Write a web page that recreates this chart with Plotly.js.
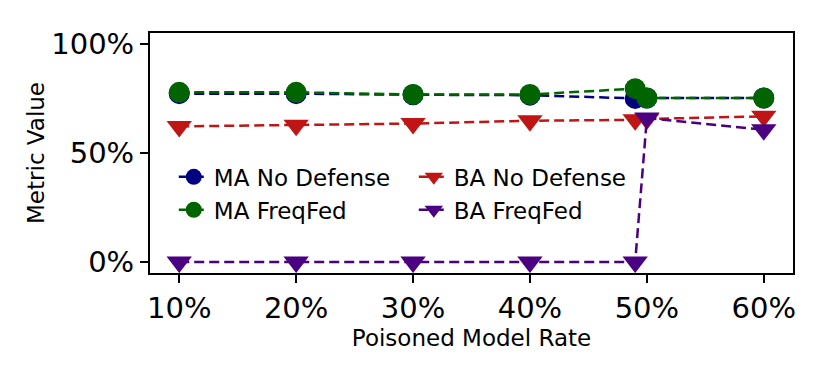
<!DOCTYPE html>
<html>
<head>
<meta charset="utf-8">
<script src="https://cdn.plot.ly/plotly-3.0.1.min.js"></script>
<style>html,body{margin:0;padding:0;background:#fff;}#chart{width:830px;height:388px;}</style>
</head>
<body>
<div id="chart"></div>
<script>
// Data
const poisonRates = [10, 20, 30, 40, 49, 50, 60];
const maNoDefense = [0.772, 0.772, 0.767, 0.765, 0.750, 0.752, 0.752];
const maFreqFed   = [0.778, 0.778, 0.768, 0.768, 0.795, 0.752, 0.752];
const baNoDefense = [0.622, 0.627, 0.635, 0.648, 0.652, 0.656, 0.668];
const baFreqFed   = [0.000, 0.000, 0.000, 0.000, 0.000, 0.660, 0.607];
const xTickVals = [10, 20, 30, 40, 50, 60];
const xTickText = ["10%", "20%", "30%", "40%", "50%", "60%"];
const yTickVals = [0, 0.5, 1];
const yTickText = ["0%", "50%", "100%"];

const seriesNames = ["MA No Defense", "MA FreqFed", "BA No Defense", "BA FreqFed"];
const seriesData = [maNoDefense, maFreqFed, baNoDefense, baFreqFed];
const seriesColors = ["#000080", "#006400", "#bf1515", "#4b0082"];
const seriesSymbols = ["circle", "circle", "triangle-down", "triangle-down"];
const legendRanks = [1, 3, 2, 4];

const traces = seriesNames.map((name, i) => ({
  type: "scatter",
  mode: "lines+markers",
  name: name,
  x: poisonRates,
  y: seriesData[i],
  line: {color: seriesColors[i], width: 2.5, dash: "10px,5px"},
  marker: {color: seriesColors[i], symbol: seriesSymbols[i], size: seriesSymbols[i] === "circle" ? 21 : 22},
  legendrank: legendRanks[i]
}));

const layout = {
  width: 830, height: 388,
  margin: {l: 150, r: 37, t: 33, b: 115},
  paper_bgcolor: "#fff", plot_bgcolor: "#fff",
  font: {family: "DejaVu Sans", color: "#000"},
  showlegend: true,
  hovermode: false,
  xaxis: {
    range: [7.5, 62.5],
    tickvals: xTickVals, ticktext: xTickText,
    tickfont: {size: 29, family: "DejaVu Sans"},
    ticks: "outside", ticklen: 8, tickwidth: 2, tickcolor: "#000",
    showline: true, linecolor: "#000", linewidth: 2, mirror: true,
    showgrid: false, zeroline: false,
    title: {text: "Poisoned Model Rate", font: {size: 23, family: "DejaVu Sans"}, standoff: 6}
  },
  yaxis: {
    range: [-0.05, 1.05],
    tickvals: yTickVals, ticktext: yTickText,
    tickfont: {size: 29, family: "DejaVu Sans"},
    ticks: "outside", ticklen: 8, tickwidth: 2, tickcolor: "#000",
    showline: true, linecolor: "#000", linewidth: 2, mirror: true,
    showgrid: false, zeroline: false,
    title: {text: "Metric Value", font: {size: 23, family: "DejaVu Sans"}, standoff: 0}
  },
  legend: {
    orientation: "h",
    x: 0.037, y: 0.49, xanchor: "left", yanchor: "top",
    entrywidth: 195, entrywidthmode: "pixels",
    font: {size: 23, family: "DejaVu Sans"},
    bgcolor: "rgba(255,255,255,0)",
    traceorder: "normal"
  }
};

Plotly.newPlot("chart", traces, layout, {displayModeBar: false, staticPlot: true});
</script>
</body>
</html>
